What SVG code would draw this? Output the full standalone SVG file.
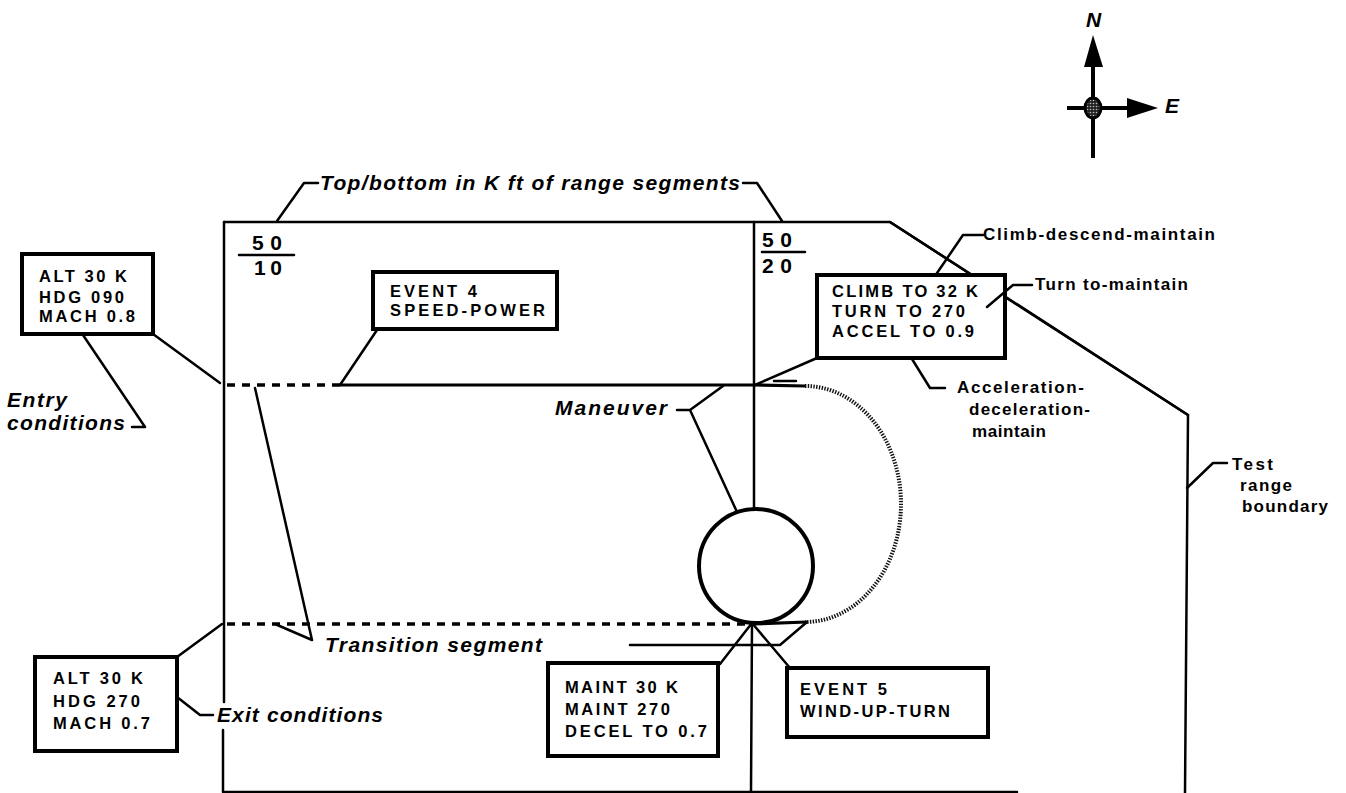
<svg xmlns="http://www.w3.org/2000/svg" width="1346" height="793" viewBox="0 0 1346 793">
<defs>
<pattern id="dots" width="3" height="3" patternUnits="userSpaceOnUse">
  <rect width="3" height="3" fill="#222"/>
  <circle cx="1.5" cy="1.5" r="0.8" fill="#bbb"/>
</pattern>
</defs>
<style>
.bg{fill:#fff}
.ln{stroke:#000;stroke-width:2.5;fill:none;stroke-linecap:round;stroke-linejoin:round}
.path{stroke:#000;stroke-width:3.2;fill:none}
.dash{stroke:#000;stroke-width:3.5;fill:none;stroke-dasharray:8 7}
.hatch{stroke:#111;stroke-width:4;fill:none;stroke-dasharray:1.4 1.4}
.box{fill:#fff;stroke:#000;stroke-width:4}
.bt{font-family:"Liberation Sans",Arial,sans-serif;font-weight:bold;font-size:16.5px;fill:#000}
.it{font-family:"Liberation Sans",Arial,sans-serif;font-weight:bold;font-style:italic;font-size:21px;fill:#000}
.lb{font-family:"Liberation Sans",Arial,sans-serif;font-weight:bold;font-size:17px;fill:#000}
.fr{font-family:"Liberation Sans",Arial,sans-serif;font-weight:bold;font-size:21px;fill:#000}
</style>
<rect class="bg" x="0" y="0" width="1346" height="793"/>

<g id="range">
  <path class="ln" d="M224 222 L890 222 L1188 415 L1185 793"/>
  <path class="ln" d="M224 222 L224 702 M223 730 L223 792 L1017 792"/>
  <path class="ln" d="M754 222 L754 509 M752 623 L751 792"/>
</g>

<g id="fractions">
  <text class="fr" x="252" y="250" textLength="30" lengthAdjust="spacing">50</text>
  <line class="ln" x1="239" y1="255" x2="294" y2="255"/>
  <text class="fr" x="254" y="275" textLength="28" lengthAdjust="spacing">10</text>
  <text class="fr" x="762" y="247" textLength="30" lengthAdjust="spacing">50</text>
  <line class="ln" x1="762" y1="252" x2="805" y2="252"/>
  <text class="fr" x="762" y="273" textLength="30" lengthAdjust="spacing">20</text>
</g>

<g id="connectors">
  <path class="dash" d="M227 385 L340 385"/>
  <path class="path" d="M340 385 L754 385 L805 386"/>
  <path class="ln" d="M774 381 L796 381"/>
  <path class="hatch" d="M805 386 A96 118 0 0 1 805 622"/>
  <path class="path" d="M752 624 L807 622"/>
  <path class="dash" d="M227 624 L745 624"/>
  <circle cx="756" cy="566" r="57" fill="none" stroke="#000" stroke-width="4"/>
  <path class="ln" d="M153 334 L220 383"/>
  <path class="ln" d="M132 427 L145 427 L83 335"/>
  <path class="ln" d="M377 330 L340 385"/>
  <path class="ln" d="M817 358 L755 385"/>
  <path class="ln" d="M255 388 L312 640 L275 624"/>
  <path class="ln" d="M630 645 L780 645 L807 622"/>
  <path class="ln" d="M677 410 L690 410 L723 386 M690 410 L737 512"/>
  <path class="ln" d="M177 657 L222 624"/>
  <path class="ln" d="M177 697 L200 715 L213 715"/>
  <path class="ln" d="M720 664 L752 623 L790 668"/>
  <path class="ln" d="M277 221 L304 183 L318 183"/>
  <path class="ln" d="M743 183 L757 183 L782 221"/>
  <path class="ln" d="M983 235 L963 235 L935 276"/>
  <path class="ln" d="M912 359 L930 388 L945 388"/>
  <path class="ln" d="M1187 488 L1213 463 L1227 463"/>
</g>

<g id="entry-box">
  <rect class="box" x="22" y="254" width="131" height="80"/>
  <text class="bt" x="39" y="282" textLength="88" lengthAdjust="spacing">ALT 30 K</text>
  <text class="bt" x="39" y="303" textLength="85" lengthAdjust="spacing">HDG 090</text>
  <text class="bt" x="39" y="322" textLength="96" lengthAdjust="spacing">MACH 0.8</text>
</g>

<g id="event4-box">
  <rect class="box" x="373" y="272" width="184" height="57"/>
  <text class="bt" x="390" y="297" textLength="87" lengthAdjust="spacing">EVENT 4</text>
  <text class="bt" x="390" y="316" textLength="155" lengthAdjust="spacing">SPEED-POWER</text>
</g>

<g id="climb-box">
  <rect class="box" x="817" y="275" width="188" height="83"/>
  <text class="bt" x="832" y="297" textLength="146" lengthAdjust="spacing">CLIMB TO 32 K</text>
  <text class="bt" x="832" y="317" textLength="133" lengthAdjust="spacing">TURN TO 270</text>
  <text class="bt" x="832" y="337" textLength="142" lengthAdjust="spacing">ACCEL TO 0.9</text>
</g>

<g id="boundary-crossing">
  <path class="ln" d="M890 222 L972 275"/>
  <path class="ln" d="M1005 297 L1188 415"/>
  <path class="ln" d="M1032 285 L1013 285 L987 307"/>
</g>

<g id="exit-box">
  <rect class="box" x="35" y="657" width="142" height="94"/>
  <text class="bt" x="53" y="684" textLength="90" lengthAdjust="spacing">ALT 30 K</text>
  <text class="bt" x="53" y="707" textLength="87" lengthAdjust="spacing">HDG 270</text>
  <text class="bt" x="53" y="729" textLength="97" lengthAdjust="spacing">MACH 0.7</text>
</g>

<g id="maint-box">
  <rect class="box" x="548" y="663" width="170" height="93"/>
  <text class="bt" x="565" y="693" textLength="113" lengthAdjust="spacing">MAINT 30 K</text>
  <text class="bt" x="565" y="715" textLength="105" lengthAdjust="spacing">MAINT 270</text>
  <text class="bt" x="565" y="737" textLength="142" lengthAdjust="spacing">DECEL TO 0.7</text>
</g>

<g id="event5-box">
  <rect class="box" x="787" y="668" width="201" height="69"/>
  <text class="bt" x="800" y="695" textLength="87" lengthAdjust="spacing">EVENT 5</text>
  <text class="bt" x="800" y="717" textLength="150" lengthAdjust="spacing">WIND-UP-TURN</text>
</g>

<g id="labels">
  <text class="it" x="320" y="190" textLength="420" lengthAdjust="spacing">Top/bottom in K ft of range segments</text>
  <text class="it" x="7" y="407" textLength="60" lengthAdjust="spacing">Entry</text>
  <text class="it" x="7" y="430" textLength="118" lengthAdjust="spacing">conditions</text>
  <text class="it" x="555" y="415" textLength="112" lengthAdjust="spacing">Maneuver</text>
  <text class="it" x="325" y="652" textLength="217" lengthAdjust="spacing">Transition segment</text>
  <text class="it" x="217" y="722" textLength="166" lengthAdjust="spacing">Exit conditions</text>
  <text class="lb" x="983" y="240" textLength="232" lengthAdjust="spacing">Climb-descend-maintain</text>
  <text class="lb" x="1035" y="290" textLength="153" lengthAdjust="spacing">Turn to-maintain</text>
  <text class="lb" x="957" y="393" textLength="127" lengthAdjust="spacing">Acceleration-</text>
  <text class="lb" x="969" y="415" textLength="121" lengthAdjust="spacing">deceleration-</text>
  <text class="lb" x="972" y="437" textLength="74" lengthAdjust="spacing">maintain</text>
  <text class="lb" x="1232" y="470" textLength="41" lengthAdjust="spacing">Test</text>
  <text class="lb" x="1240" y="491" textLength="52" lengthAdjust="spacing">range</text>
  <text class="lb" x="1242" y="512" textLength="86" lengthAdjust="spacing">boundary</text>
</g>

<g id="compass">
  <line x1="1093" y1="62" x2="1093" y2="158" stroke="#000" stroke-width="4"/>
  <polygon points="1093,35 1084,67 1103,67" fill="#000"/>
  <line x1="1067" y1="108" x2="1132" y2="108" stroke="#000" stroke-width="4"/>
  <polygon points="1158,108 1127,98 1127,118" fill="#000"/>
  <ellipse cx="1093" cy="108" rx="8" ry="10" fill="url(#dots)" stroke="#000" stroke-width="3"/>
  <text class="it" x="1086" y="27" font-size="22">N</text>
  <text class="it" x="1165" y="113" font-size="22">E</text>
</g>
</svg>
